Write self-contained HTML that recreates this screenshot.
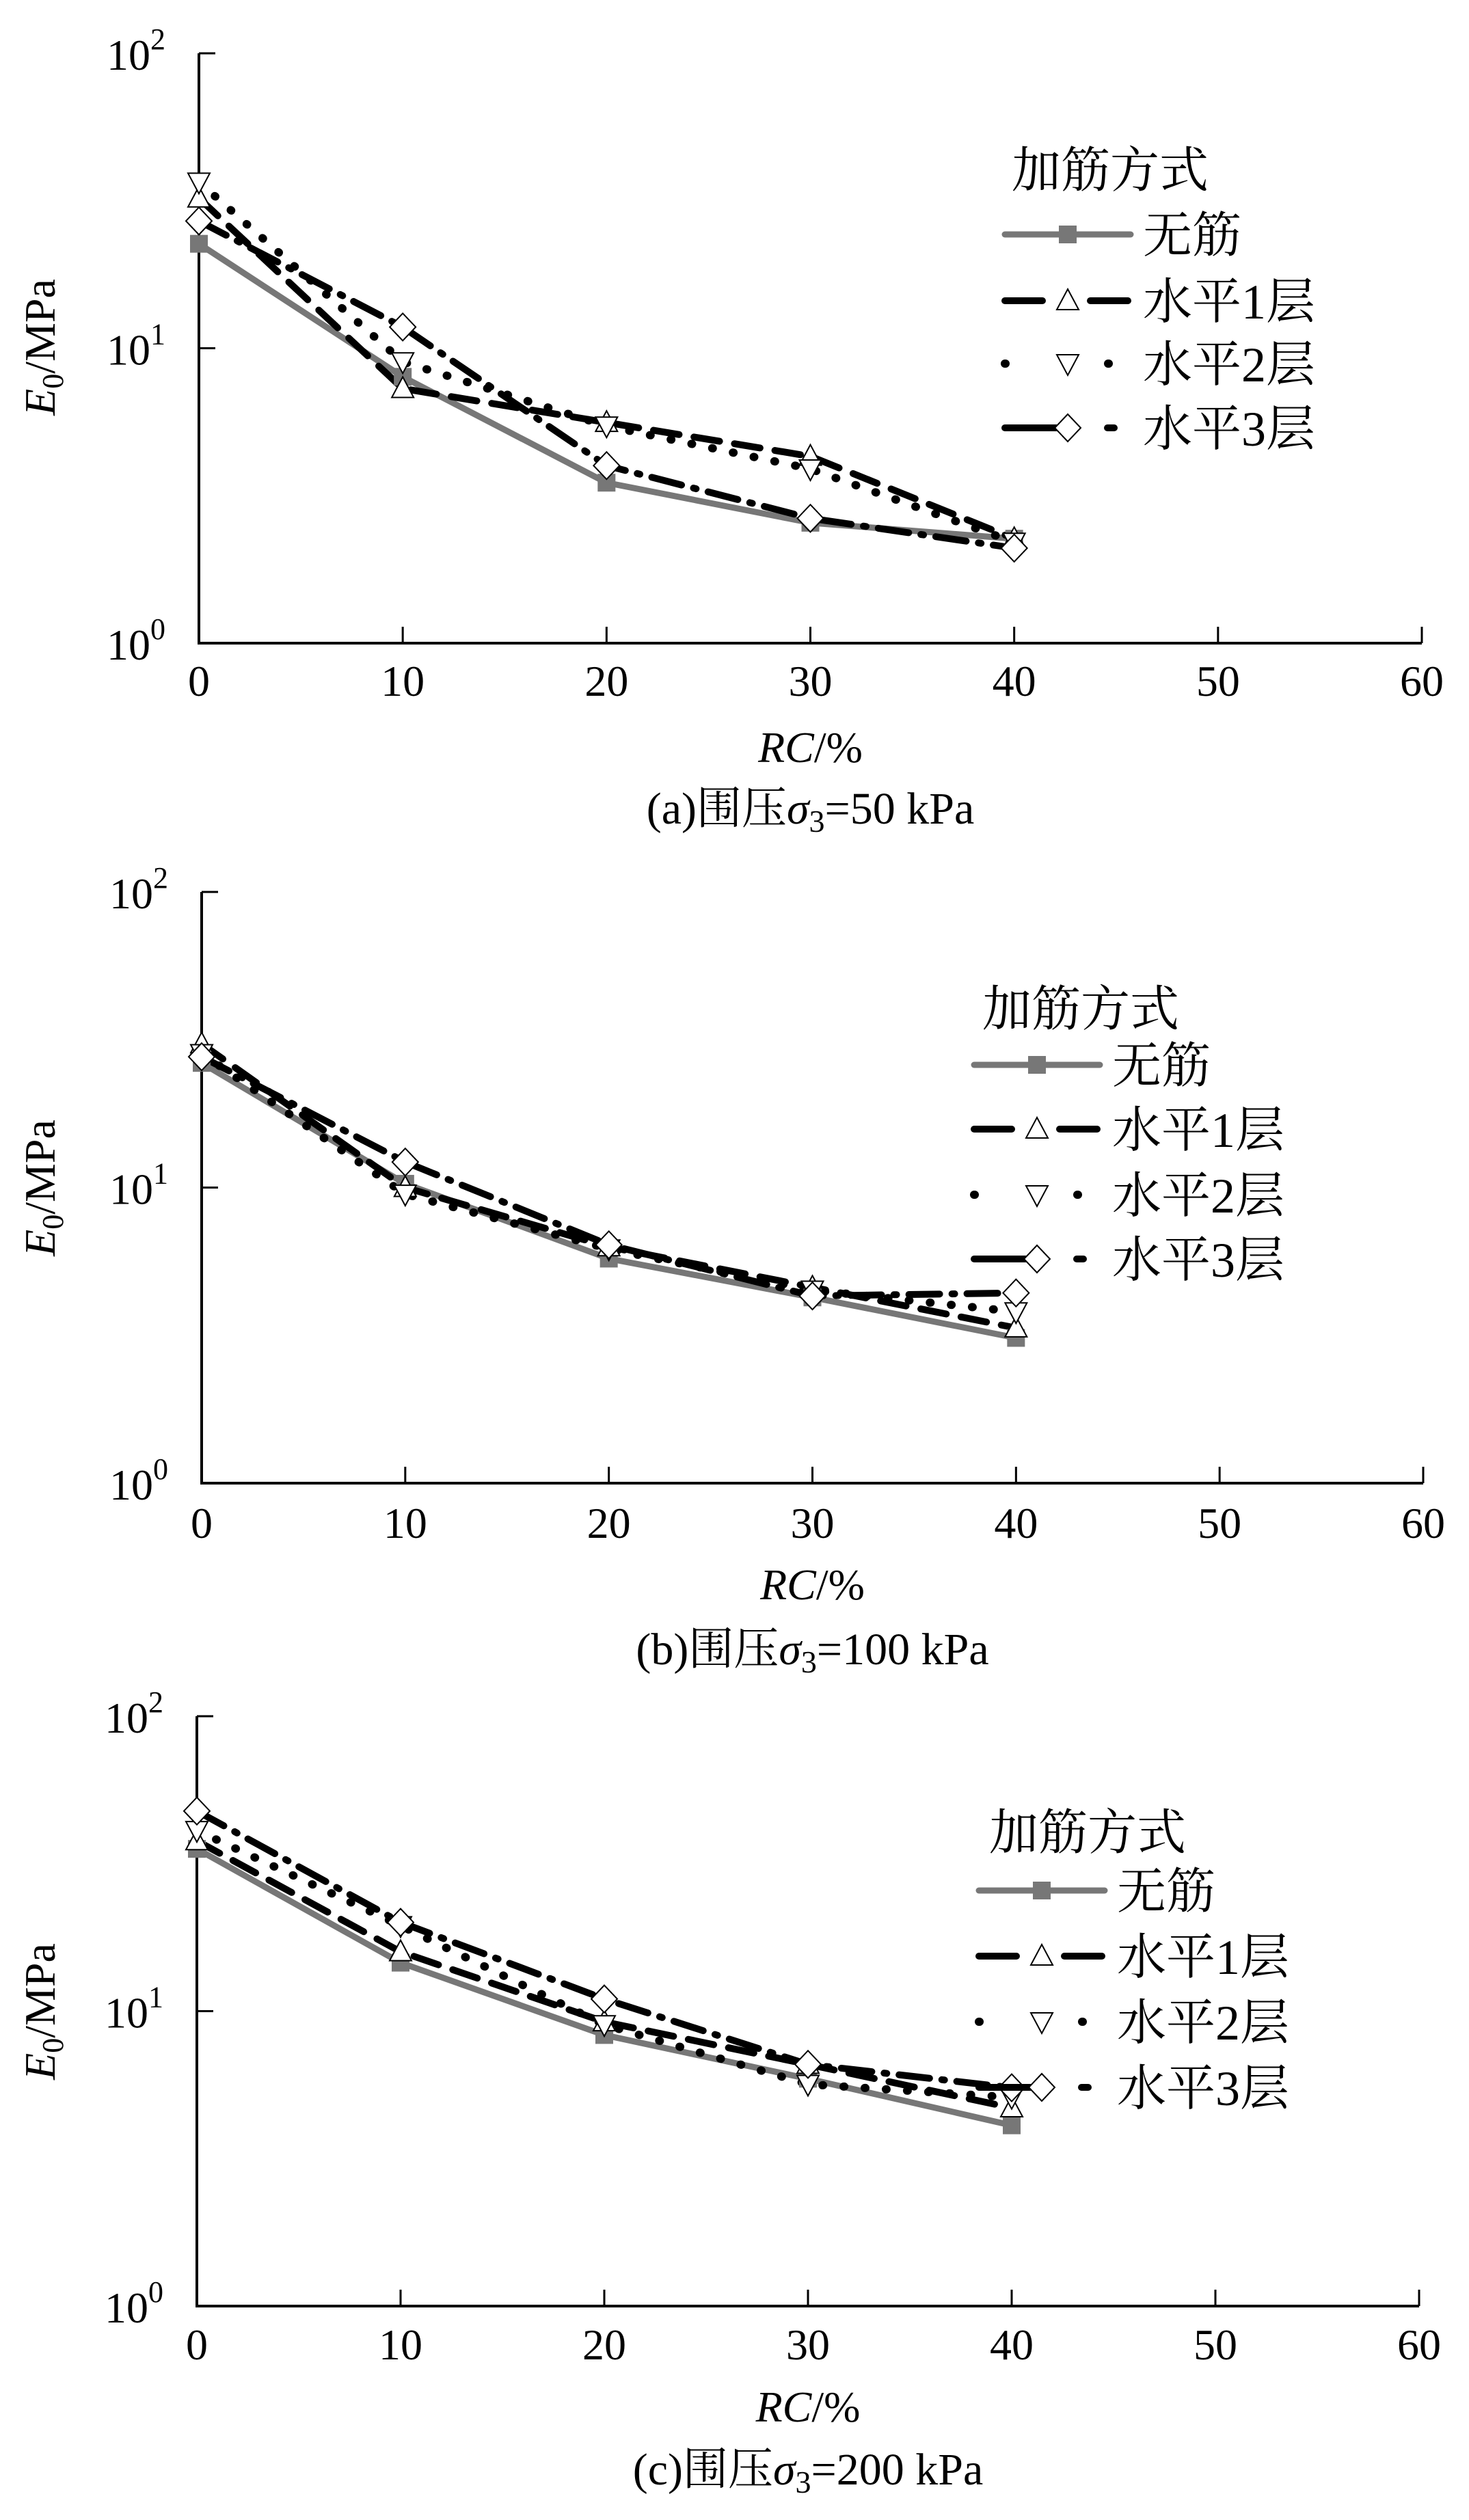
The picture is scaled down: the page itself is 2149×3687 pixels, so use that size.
<!DOCTYPE html>
<html><head><meta charset="utf-8">
<style>
html,body{margin:0;padding:0;background:#fff;}
svg{display:block;}
text{font-family:"Liberation Serif","Noto Serif CJK SC",serif;fill:#000;}
.cjk{font-family:"Liberation Serif","Noto Serif CJK SC","Noto Sans CJK SC",serif;}
</style></head>
<body>
<svg id="chart" width="2149" height="3687" viewBox="0 0 2149 3687" xmlns="http://www.w3.org/2000/svg"></svg>
<script>
const categories = [0, 10, 20, 30, 40];
const xTicks = [0, 10, 20, 30, 40, 50, 60];
const yTickExp = [0, 1, 2];
const seriesNames = ["无筋", "水平1层", "水平2层", "水平3层"];
const captions = ["(a)围压", "(b)围压", "(c)围压"];
const pressures = ["50 kPa", "100 kPa", "200 kPa"];
// panel a
const a_none = [22.6, 8.0, 3.5, 2.56, 2.26];
const a_h1 = [32.3, 7.3, 5.6, 4.3, 2.26];
const a_h2 = [36.6, 9.0, 5.45, 3.9, 2.2];
const a_h3 = [27, 11.8, 4.0, 2.65, 2.1];
// panel b
const b_none = [26.4, 10.3, 5.75, 4.25, 3.1];
const b_h1 = [30.6, 10.0, 6.3, 4.6, 3.35];
const b_h2 = [28.4, 9.5, 6.2, 4.5, 3.8];
const b_h3 = [27.7, 12.2, 6.4, 4.3, 4.4];
// panel c
const c_none = [35.5, 14.6, 8.3, 5.9, 4.1];
const c_h1 = [37.8, 15.9, 9.2, 6.6, 4.7];
const c_h2 = [41, 19.5, 9.0, 5.65, 5.1];
const c_h3 = [47.7, 20, 11, 6.6, 5.5];

const NS = "http://www.w3.org/2000/svg";
const svg = document.getElementById("chart");
function mk(tag, attrs, parent, txt){
  const e = document.createElementNS(NS, tag);
  for (const k in attrs) e.setAttribute(k, attrs[k]);
  if (txt !== undefined) e.textContent = txt;
  (parent || svg).appendChild(e);
  return e;
}
const styles = [
  {stroke:"#777", w:9, dash:null, cap:"round"},
  {stroke:"#000", w:10, dash:"38 22", cap:"round"},
  {stroke:"#000", w:12, dash:"1 30", cap:"round"},
  {stroke:"#000", w:10, dash:"45 18 4 18", cap:"round"}
];
function marker(g, i, x, y){
  let m;
  if (i === 0) m = mk("rect", {x:x-13, y:y-13, width:26, height:26, fill:"#777"}, g);
  else if (i === 1) m = mk("polygon", {points:`${x},${y-17} ${x+16},${y+13} ${x-16},${y+13}`, fill:"#fff", stroke:"#000", "stroke-width":2}, g);
  else if (i === 2) m = mk("polygon", {points:`${x-16},${y-13} ${x+16},${y-13} ${x},${y+17}`, fill:"#fff", stroke:"#000", "stroke-width":2}, g);
  else m = mk("polygon", {points:`${x},${y-20} ${x+19},${y} ${x},${y+20} ${x-19},${y}`, fill:"#fff", stroke:"#000", "stroke-width":2}, g);
  return m;
}
const panels = [
  {x0:291, x1:2080, yT:78, yB:941, data:[a_none,a_h1,a_h2,a_h3], lx:1470, ltx:1480, lty:248, ly:[343,440,532,626], tickY:1018, xtY:1115, capY:1205, ytY:508},
  {x0:295, x1:2082, yT:1305, yB:2170, data:[b_none,b_h1,b_h2,b_h3], lx:1425, ltx:1437, lty:1475, ly:[1558,1652,1748,1842], tickY:2250, xtY:2340, capY:2435, ytY:1738},
  {x0:288, x1:2076, yT:2511, yB:3374, data:[c_none,c_h1,c_h2,c_h3], lx:1432, ltx:1447, lty:2680, ly:[2766,2862,2958,3054], tickY:3452, xtY:3543, capY:3635, ytY:2943}
];
panels.forEach((p, pi) => {
  const g = mk("g", {});
  
  
  const xs = v => p.x0 + (v - 0) / 60 * (p.x1 - p.x0);
  const ys = v => p.yB - Math.log10(v) / 2 * (p.yB - p.yT);
  const ax = mk("path", {d:`M${p.x0},${p.yT} V${p.yB} H${p.x1}`, fill:"none", stroke:"#000", "stroke-width":4}, g);
  
  
  xTicks.forEach(t => {
    const x = xs(t);
    mk("line", {x1:x, y1:p.yB, x2:x, y2:p.yB-24, stroke:"#000", "stroke-width":3}, g);
    const tl = mk("text", {x:x, y:p.tickY, "font-size":64, "text-anchor":"middle"}, g, String(t));
    
    
  });
  yTickExp.forEach(e => {
    const y = ys(Math.pow(10, e));
    mk("line", {x1:p.x0, y1:y, x2:p.x0+24, y2:y, stroke:"#000", "stroke-width":3}, g);
    const tl = mk("text", {x:p.x0-92, y:y+24, "font-size":64, "text-anchor":"middle"}, g);
    
    
    mk("tspan", {}, tl, "10");
    mk("tspan", {dy:-30, "font-size":44}, tl, String(e));
  });
  const yt = mk("text", {transform:`translate(80,${p.ytY}) rotate(-90)`, "font-size":64, "text-anchor":"middle"}, g);
  
  
  mk("tspan", {"font-style":"italic"}, yt, "E");
  mk("tspan", {dy:12, "font-size":44}, yt, "0");
  mk("tspan", {dy:-12}, yt, "/MPa");
  const xt = mk("text", {x:(p.x0+p.x1)/2, y:p.xtY, "font-size":64, "text-anchor":"middle"}, g);
  
  
  mk("tspan", {"font-style":"italic"}, xt, "RC");
  mk("tspan", {}, xt, "/%");
  const cp = mk("text", {x:(p.x0+p.x1)/2, y:p.capY, "font-size":66, "text-anchor":"middle", class:"cjk"}, g);
  
  
  mk("tspan", {}, cp, captions[pi]);
  mk("tspan", {"font-style":"italic"}, cp, "σ");
  mk("tspan", {dy:12, "font-size":46}, cp, "3");
  mk("tspan", {dy:-12}, cp, "=" + pressures[pi]);
  p.data.forEach((vals, si) => {
    const st = styles[si];
    const d = vals.map((v, k) => (k ? "L" : "M") + xs(categories[k]) + "," + ys(v)).join(" ");
    const attrs = {d:d, fill:"none", stroke:st.stroke, "stroke-width":st.w, "stroke-linecap":st.cap, "stroke-linejoin":"round"};
    if (st.dash) attrs["stroke-dasharray"] = st.dash;
    const line = mk("path", attrs, g);
    
    
  });
  p.data.forEach((vals, si) => {
    vals.forEach((v, k) => {
      const m = marker(g, si, xs(categories[k]), ys(v));
      
      
    });
  });
  const lg = mk("g", {}, g);
  
  
  mk("text", {x:p.ltx, y:p.lty+26, "font-size":72, class:"cjk"}, lg, "加筋方式");
  seriesNames.forEach((nm, si) => {
    const st = styles[si];
    const y = p.ly[si];
    const attrs = {x1:p.lx, y1:y, x2:p.lx+184, y2:y, stroke:st.stroke, "stroke-width":st.w, "stroke-linecap":"round"};
    if (si === 1) attrs["stroke-dasharray"] = "55 70";
    if (si === 2) attrs["stroke-dasharray"] = "1 150";
    if (si === 3) attrs["stroke-dasharray"] = "100 50 10 40";
    mk("line", attrs, lg);
    marker(lg, si, p.lx+92, y);
    const t = mk("text", {x:p.lx+202, y:y+26, "font-size":72, class:"cjk"}, lg, nm);
    
    
  });
});
</script>
</body></html>
